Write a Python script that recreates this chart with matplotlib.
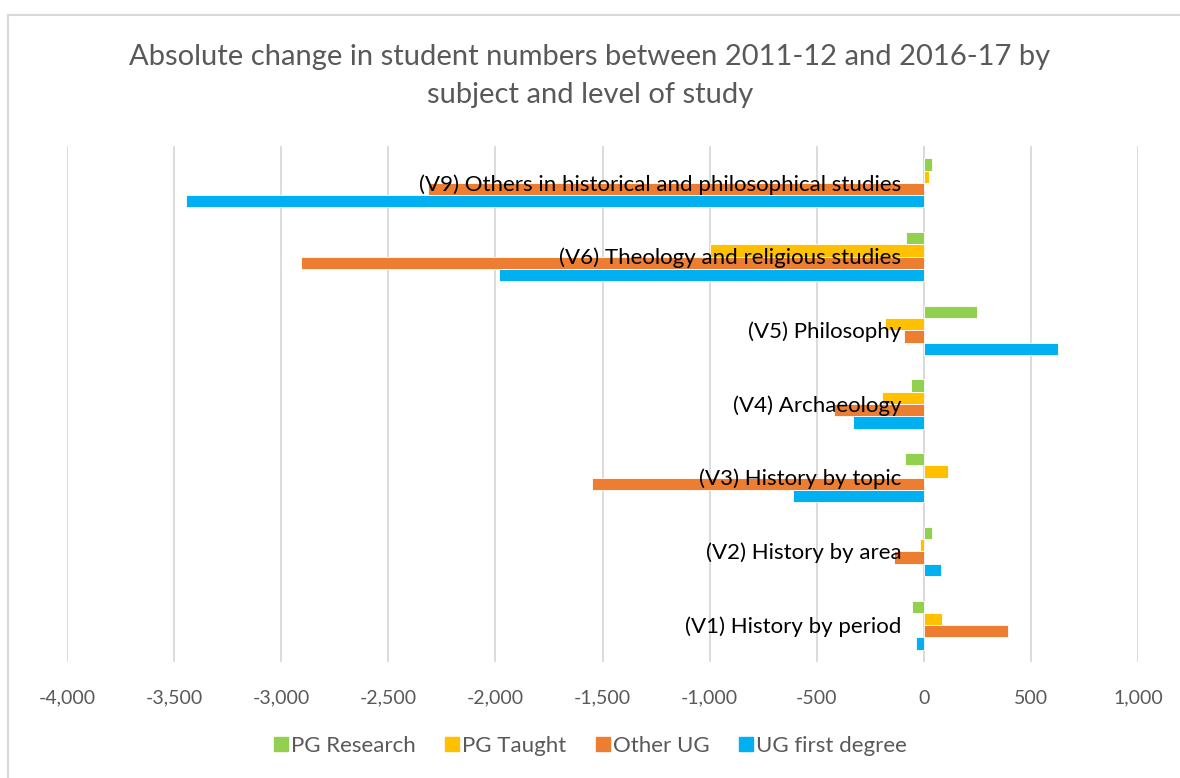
import matplotlib.pyplot as plt
import numpy as np
from matplotlib.lines import Line2D

categories = ["(V1) History by period", "(V2) History by area", "(V3) History by topic",
              "(V4) Archaeology", "(V5) Philosophy", "(V6) Theology and religious studies",
              "(V9) Others in historical and philosophical studies"]

pg_research = [-56, 37, -89, -61, 248, -84, 40]
pg_taught = [84, -19, 112, -196, -182, -1000, 25]
other_ug = [393, -140, -1551, -420, -93, -2907, -2313]
ug_first = [-37, 79, -612, -332, 626, -1981, -3444]

series = ["PG Research", "PG Taught", "Other UG", "UG first degree"]
colours = ["#92D050", "#FFC000", "#ED7D31", "#00B0F0"]
ticks = [-4000, -3500, -3000, -2500, -2000, -1500, -1000, -500, 0, 500, 1000]

plt.rcParams['font.family'] = ['Lato', 'DejaVu Sans']

fig = plt.figure(figsize=(11.8, 7.78), dpi=100)
ax = fig.add_axes([67 / 1180, 1 - 662 / 778, (1138 - 67) / 1180, (662 - 146) / 778])

y = np.arange(len(categories))
h = 1 / 6
offsets = [1.5 * h, 0.5 * h, -0.5 * h, -1.5 * h]
for vals, off, col, name in zip([pg_research, pg_taught, other_ug, ug_first], offsets, colours, series):
    ax.barh(y + off, vals, height=h, color=col, edgecolor='white', linewidth=0.6, label=name, zorder=2)

ax.set_xlim(-4000, 1000)
ax.set_ylim(-0.5, len(categories) - 0.5)
ax.set_xticks(ticks)
ax.set_xticklabels([f"{t:,}" for t in ticks], color='#595959', fontsize=14)
ax.tick_params(axis='x', length=0, pad=20)
ax.set_yticks([])
ax.grid(axis='x', color='#D9D9D9', linewidth=1.3, zorder=0)
for s in ax.spines.values():
    s.set_visible(False)
ax.axvline(0, color='#D9D9D9', linewidth=1.3, zorder=1)

for yi, cat in zip(y, categories):
    ax.text(-105, yi - 0.02, cat, ha='right', va='center', fontsize=16, color='black', zorder=3)

fig.text(0.5, 1 - 57 / 778, "Absolute change in student numbers between 2011-12 and 2016-17 by",
         ha='center', va='center', fontsize=21, color='#595959')
fig.text(0.5, 1 - 95 / 778, "subject and level of study",
         ha='center', va='center', fontsize=21, color='#595959')

handles = [Line2D([], [], marker='s', linestyle='', markersize=10, color=c) for c in colours]
fig.legend(handles, series, loc='center', bbox_to_anchor=(0.5, 1 - 746 / 778), ncol=4,
           frameon=False, fontsize=16, labelcolor='#595959', handletextpad=0.1,
           columnspacing=1.3, handlelength=0.7)

# outer chart border
fig.add_artist(Line2D([8 / 1180, 8 / 1180], [0, 1 - 14.5 / 778], color='#D9D9D9', linewidth=1.5))
fig.add_artist(Line2D([8 / 1180, 1], [1 - 14.5 / 778, 1 - 14.5 / 778], color='#D9D9D9', linewidth=1.5))

fig.savefig("out.png", dpi=100)
